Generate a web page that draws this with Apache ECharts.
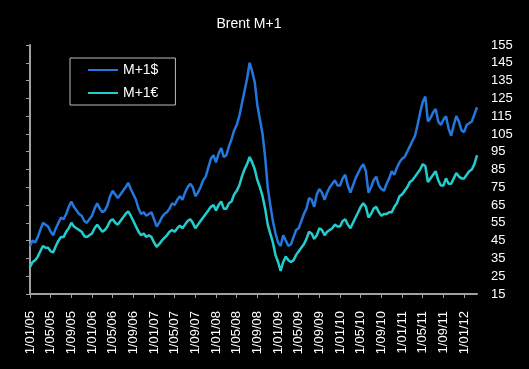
<!DOCTYPE html>
<html>
<head>
<meta charset="utf-8">
<script src="https://cdn.jsdelivr.net/npm/echarts@6/dist/echarts.min.js"></script>
<style>
html,body{margin:0;padding:0;background:#000;}
#chart{width:529px;height:369px;}
</style>
</head>
<body>
<div id="chart"></div>
<script>
// months since 1/01/05 for each sample
var months = [0,0.5,1,1.5,2,2.5,3,3.5,4,4.5,5,5.5,6,6.5,7,7.5,8,8.5,9,9.5,10,10.5,11,11.5,
12,12.5,13,13.5,14,14.5,15,15.5,16,16.5,17,17.5,18,18.5,19,19.5,20,20.5,21,21.5,22,22.5,23,23.5,
24,24.5,25,25.5,26,26.5,27,27.5,28,28.5,29,29.5,30,30.5,31,31.5,32,32.5,33,33.5,34,34.5,35,35.5,
36,36.5,37,37.5,38,38.5,39,39.5,40,40.5,41,41.5,42,42.5,43,43.5,44,44.5,45,45.5,46,46.5,47,47.5,
48,48.5,49,49.5,50,50.5,51,51.5,52,52.5,53,53.5,54,54.5,55,55.5,56,56.5,57,57.5,58,58.5,59,59.5,
60,60.5,61,61.5,62,62.5,63,63.5,64,64.5,65,65.5,66,66.5,67,67.5,68,68.5,69,69.5,70,70.5,71,71.5,
72,72.5,73,73.5,74,74.5,75,75.5,76,76.5,77,77.5,78,78.5,79,79.5,80,80.5,81,81.5,82,82.5,83,83.5,
84,84.5,85,85.5,86,86.5];

var usd = [42,45,44,47,51,55,54,53,50,48,52,55,58,57,60,64,67,64,62,60,59,56,55,57,
59,63,66,63,61,62,65,70,73,71,69,71,73,75,77.5,74,71,68,63,60,61,59,60,61,
57,53,55,58,60,61,63,66,65,68,70,68,72,75,77,75,70,72,75,79,81,86,91,93,
89,94,97,92,93,98,102,107,110,115,122,129,136,145,140,134,121,113,105,92,75,65,56,49,
44,42,48,45,42,43,47,51,52,56,60,63,69,68,64,71,74,72,68,72,75,77,79,76,
76,80,82,76,72,76,80,83,86,88,84,72,75,79,81,76,74,73,77,80,84,82,86,89,
91,92,95,98,101,104,110,117,123,126,112,114,117,119,112,110,113,115,108,104,110,115,112,107,
106,110,111,112,116,120];

var eur = [30,33,34,36,39,42,41,41,39,38.5,42,45,47,47,50,52,55,53,52,51,50,47.5,47,48,
49,52,54,52,50,51,53,56,57,55,54,56,58,60,61.5,59,56,53,50,48,49,47,48,47,
44,41.5,43,45,46.5,48,50,51,50,52,53.5,52,54,56,57,55,52,54,56,58,60,62,64,65,
62,65,67,63,63,66,67,71,73,76,81,85,88,92,89,85,79,75,70,63,54,49,44,37,
33,28,33,36,34,33,34,37,39,41,43,46,50,49,46,48,52,51,48,50,51,52,54,53,
53,56,57,54,52,55,58,61,64,66,64,58,60,63,64,61,59,60,60,61,61,64,66,70,
71,73,75,78,79,81,83,85,88,87,78,80,82,84,79,76,76,80,77,77,80,83,81,80,
80,82,84,85,88,93];

var tickMonths = [0,4,8,12,16,20,24,28,32,36,40,44,48,52,56,60,64,68,72,76,80,84];
var tickLabels = ['1/01/05','1/05/05','1/09/05','1/01/06','1/05/06','1/09/06','1/01/07','1/05/07',
'1/09/07','1/01/08','1/05/08','1/09/08','1/01/09','1/05/09','1/09/09','1/01/10','1/05/10',
'1/09/10','1/01/11','1/05/11','1/09/11','1/01/12'];
var seriesNames = ['M+1$','M+1€'];

function pairs(xs, ys){ return xs.map(function(x,i){ return [x, ys[i]]; }); }

var FONT = 'Liberation Sans, Arial, sans-serif';
var chart = echarts.init(document.getElementById('chart'), null, {renderer:'canvas'});
chart.setOption({
  backgroundColor:'#000',
  animation:false,
  title:{
    text:'Brent M+1', left:244, top:12, textAlign:'center',
    textStyle:{color:'#fff', fontSize:14, fontWeight:'normal', fontFamily:FONT}
  },
  legend:{
    orient:'vertical', left:70, top:58,
    borderColor:'#bbb', borderWidth:1, padding:[5,17,5,18],
    itemWidth:30, itemHeight:2, itemGap:9, icon:'rect',
    textStyle:{color:'#fff', fontSize:14, lineHeight:14, fontFamily:FONT},
    data:seriesNames
  },
  grid:{left:30, right:52, top:45, bottom:75, containLabel:false},
  xAxis:{
    type:'value', min:0, max:86.5,
    axisLine:{show:true, lineStyle:{color:'#a0a0a0', width:2}},
    axisTick:{show:true, length:4, lineStyle:{color:'#a0a0a0', width:1}, customValues:tickMonths},
    axisLabel:{
      customValues:tickMonths, rotate:90, color:'#fff', fontSize:13, margin:17,
      fontFamily:FONT,
      formatter:function(v){ var i = tickMonths.indexOf(Math.round(v)); return i>=0 ? tickLabels[i] : ''; }
    },
    splitLine:{show:false}
  },
  yAxis:{
    type:'value', position:'right', min:15, max:155, interval:10,
    axisLine:{show:true, lineStyle:{color:'#a0a0a0', width:2}},
    axisTick:{show:true, inside:true, length:4, lineStyle:{color:'#a0a0a0'}},
    axisLabel:{color:'#fff', fontSize:13, margin:14, fontFamily:FONT},
    splitLine:{show:false}
  },
  series:[
    {name:seriesNames[0], type:'line', data:pairs(months, usd), showSymbol:false, symbol:'none',
     lineStyle:{color:'#2477dc', width:2.5}, itemStyle:{color:'#2477dc'}},
    {name:seriesNames[1], type:'line', data:pairs(months, eur), showSymbol:false, symbol:'none',
     lineStyle:{color:'#24cdcd', width:2.5}, itemStyle:{color:'#24cdcd'}}
  ]
});
</script>
</body>
</html>
